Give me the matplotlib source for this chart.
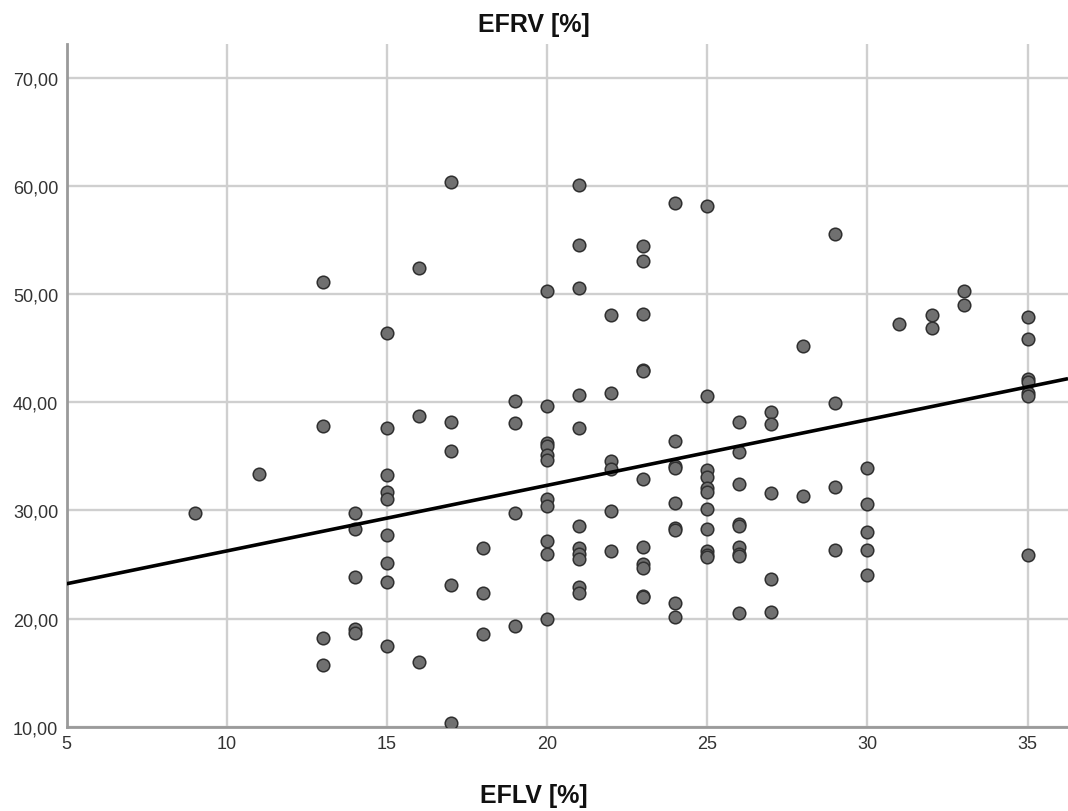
import matplotlib
matplotlib.use("Agg")
import matplotlib.pyplot as plt
import numpy as np
from matplotlib.ticker import FuncFormatter

# EFLV [%] values (x) and EFRV [%] values (y)
efrv_by_eflv = {
    9:  [29.8],
    11: [33.4],
    13: [51.1, 37.8, 18.2, 15.7],
    14: [29.8, 28.3, 23.8, 19.0, 18.7],
    15: [46.4, 37.6, 33.3, 31.7, 31.1, 27.7, 25.1, 23.4, 17.5],
    16: [52.4, 38.7, 16.0],
    17: [60.4, 38.2, 35.5, 23.1, 10.3],
    18: [26.5, 22.4, 18.6],
    19: [40.1, 38.1, 29.8, 19.3],
    20: [50.3, 39.7, 36.2, 36.0, 35.1, 34.7, 31.1, 30.4, 27.2, 26.0, 20.0],
    21: [60.1, 54.6, 50.6, 40.7, 37.6, 28.6, 26.5, 26.0, 25.5, 22.9, 22.4],
    22: [48.1, 40.9, 34.6, 33.8, 29.9, 26.2],
    23: [54.5, 53.1, 48.2, 43.0, 42.9, 32.9, 26.6, 25.0, 24.7, 22.1, 22.0],
    24: [58.4, 36.4, 34.1, 33.9, 30.7, 28.4, 28.2, 21.4, 20.1],
    25: [58.2, 40.6, 33.7, 33.1, 32.1, 31.7, 30.1, 28.3, 26.2, 25.9, 25.7],
    26: [38.2, 35.4, 32.4, 28.7, 28.6, 26.6, 26.0, 25.8, 20.5],
    27: [39.1, 38.0, 31.6, 23.7, 20.6],
    28: [45.2, 31.3],
    29: [55.6, 39.9, 32.2, 26.3],
    30: [33.9, 30.6, 28.0, 26.3, 24.0],
    31: [47.2],
    32: [48.1, 46.9],
    33: [50.3, 49.0],
    35: [47.9, 45.9, 42.2, 41.9, 40.9, 40.6, 25.9],
}
eflv = [k for k, vals in efrv_by_eflv.items() for _ in vals]
efrv = [v for vals in efrv_by_eflv.values() for v in vals]

# fit line as drawn in the reference
fit_intercept = 20.18
fit_slope = 0.607

x_ticks = [5, 10, 15, 20, 25, 30, 35]
y_ticks = [10, 20, 30, 40, 50, 60, 70]
title_text = "EFRV [%]"
xlabel_text = "EFLV [%]"

fig = plt.figure(figsize=(10.68, 8.12), dpi=100)
ax = fig.add_axes([66.6 / 1068, 1 - 727.6 / 812, 1 - 66.6 / 1068, (727.6 - 45) / 812])

ax.set_xlim(5, 36.26)
ax.set_ylim(10, 73.15)
ax.set_xticks(x_ticks)
ax.set_yticks(y_ticks)
ax.grid(True, color="#cfcfcf", linewidth=1.7, zorder=0)
ax.set_axisbelow(True)

for s in ["top", "right"]:
    ax.spines[s].set_visible(False)
for s in ["left", "bottom"]:
    ax.spines[s].set_color("#9a9a9a")
    ax.spines[s].set_linewidth(2.0)

ax.tick_params(length=0, labelsize=13, labelcolor="#333333", pad=6)
ax.yaxis.set_major_formatter(FuncFormatter(lambda v, p: f"{v:.2f}".replace(".", ",")))
ax.xaxis.set_major_formatter(FuncFormatter(lambda v, p: f"{int(v)}"))
for lab in ax.get_xticklabels() + ax.get_yticklabels():
    lab.set_fontfamily("Liberation Sans")

ax.scatter(eflv, efrv, s=82, facecolor="#707070", edgecolor="#2f2f2f",
           linewidth=1.1, zorder=3)

xs = np.array(ax.get_xlim())
ax.plot(xs, fit_intercept + fit_slope * xs, color="black", linewidth=2.6, zorder=4,
        solid_capstyle="butt")

fig.text(0.5, 1 - 25 / 812, title_text, ha="center", va="center",
         fontsize=18, fontweight="bold", family="Liberation Sans", color="#111111")
fig.text(0.5, 1 - 796 / 812, xlabel_text, ha="center", va="center",
         fontsize=18, fontweight="bold", family="Liberation Sans", color="#111111")

fig.savefig("out.png", dpi=100)
